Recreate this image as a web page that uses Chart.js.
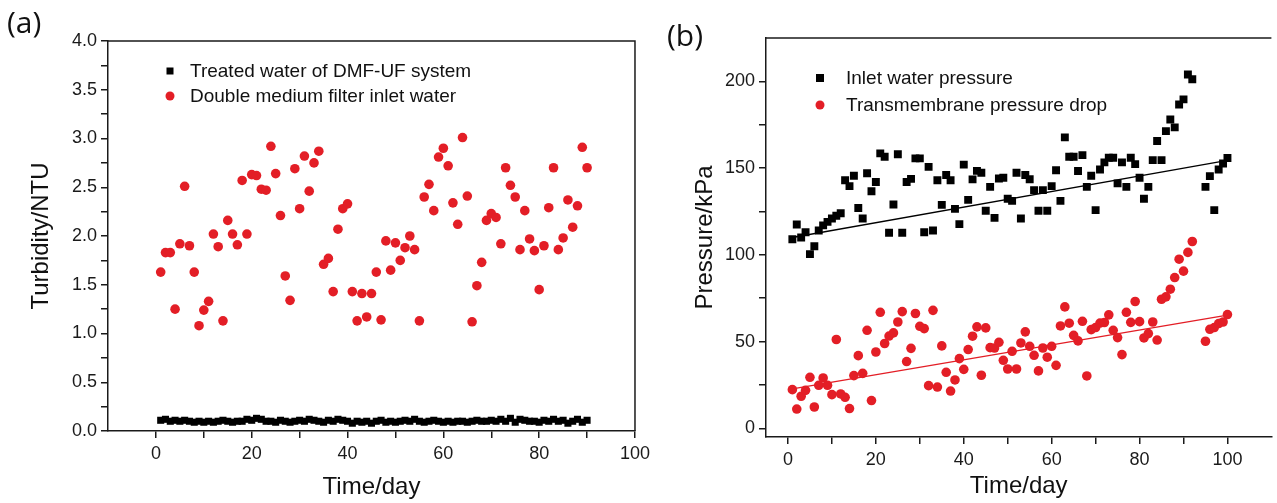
<!DOCTYPE html>
<html><head><meta charset="utf-8">
<script src="https://cdn.jsdelivr.net/npm/chart.js@4.4.1/dist/chart.umd.min.js"></script>
<style>
html,body{margin:0;padding:0;background:#fff;width:1277px;height:503px;overflow:hidden}
#ca{position:absolute;left:0;top:0}
#cb{position:absolute;left:655px;top:0}
</style></head><body>
<canvas id="ca" width="655" height="503"></canvas>
<canvas id="cb" width="622" height="503"></canvas>
<script>
// ---------- Panel (a) data ----------
const turbDays = [1,2,3,4,5,6,7,8,9,10,11,12,13,14,15,16,17,18,19,20,21,22,23,24,25,26,27,28,29,30,
  31,32,33,34,35,36,37,38,39,40,41,42,43,44,45,46,47,48,49,50,51,52,53,54,55,56,57,58,59,60,
  61,62,63,64,65,66,67,68,69,70,71,72,73,74,75,76,77,78,79,80,81,82,83,84,85,86,87,88,89,90];
const treatedTurbidity = [0.11,0.12,0.10,0.11,0.10,0.11,0.10,0.09,0.10,0.09,
  0.10,0.09,0.10,0.11,0.10,0.09,0.10,0.10,0.12,0.11,
  0.13,0.12,0.10,0.10,0.09,0.11,0.10,0.09,0.10,0.11,
  0.10,0.12,0.11,0.10,0.09,0.11,0.10,0.12,0.11,0.10,
  0.08,0.10,0.09,0.10,0.08,0.10,0.11,0.09,0.10,0.09,
  0.10,0.11,0.10,0.12,0.10,0.09,0.10,0.11,0.10,0.09,
  0.10,0.09,0.10,0.10,0.09,0.10,0.11,0.10,0.10,0.11,
  0.10,0.12,0.10,0.13,0.09,0.12,0.11,0.10,0.10,0.09,
  0.11,0.10,0.12,0.10,0.11,0.08,0.10,0.12,0.09,0.11];
const inletTurbidity = [1.63,1.83,1.83,1.25,1.92,2.51,1.90,1.63,1.08,1.24,
  1.33,2.02,1.89,1.13,2.16,2.02,1.91,2.57,2.02,2.63,
  2.62,2.48,2.47,2.92,2.64,2.21,1.59,1.34,2.69,2.28,
  2.82,2.46,2.75,2.87,1.71,1.77,1.43,2.07,2.28,2.33,
  1.43,1.13,1.41,1.17,1.41,1.63,1.14,1.95,1.65,1.93,
  1.75,1.88,2.00,1.86,1.13,2.40,2.53,2.26,2.81,2.90,
  2.72,2.34,2.12,3.01,2.41,1.12,1.49,1.73,2.16,2.23,
  2.19,1.92,2.70,2.52,2.40,1.86,2.26,1.97,1.85,1.45,
  1.90,2.29,2.70,1.86,1.98,2.37,2.09,2.31,2.91,2.70];
const aXTicks = [0,10,20,30,40,50,60,70,80,90,100];
const aXLabels = ['0','','20','','40','','60','','80','','100'];
const aYTicks = [0,0.25,0.5,0.75,1,1.25,1.5,1.75,2,2.25,2.5,2.75,3,3.25,3.5,3.75,4];
const aYLabels = ['0.0','','0.5','','1.0','','1.5','','2.0','','2.5','','3.0','','3.5','','4.0'];

// ---------- Panel (b) data ----------
const pressDays = [1,2,3,4,5,6,7,8,9,10,11,12,13,14,15,16,17,18,19,20,21,22,23,24,25,26,27,28,29,30,
  31,32,33,34,35,36,37,38,39,40,41,42,43,44,45,46,47,48,49,50,51,52,53,54,55,56,57,58,59,60,
  61,62,63,64,65,66,67,68,69,70,71,72,73,74,75,76,77,78,79,80,81,82,83,84,85,86,87,88,89,90,
  91,92,95,96,97,98,99,100];
const inletPressure = [109,117.5,110,113,100.4,105,114,117,119,121,
  122.5,124,143,139.6,145.6,127,121,147,136.7,142,
  158.5,156.5,112.7,129,158,112.7,142,143.8,155.6,155.6,
  113,150.7,114,143,128.8,146,143,126.5,117.7,152,
  131.7,143.5,148.4,147.3,125.4,139.2,121.3,144,144.4,132.3,
  131.1,147.3,121,146,143.6,137.3,125.4,137.3,125.4,139.6,
  148.8,131.1,167.7,156.5,156.5,148.3,157.5,139.2,145.6,125.8,
  149.2,153.3,156,156,141.2,153.3,139.2,156,152.3,144.4,
  132.3,139.2,154.6,165.6,154.6,171.3,178,173.5,186.7,189.6,
  204,201.2,139.2,145.4,125.8,149.2,152.7,155.8];
const tmpDrop = [22.3,11.1,18.5,21.9,29.4,12.3,24.8,29,24.8,19.4,
  51.2,19.8,17.9,11.4,30.4,41.9,31.7,56.5,16,44,
  66.9,48.9,53.2,55,61.3,67.3,38.5,46.1,66.2,58.8,
  57.5,24.6,68,23.8,47.5,32.3,21.5,27.9,40.2,34,
  45.4,53.1,58.5,30.6,57.9,46.5,46.3,49.6,39.2,34.2,
  44.4,34.2,49.2,55.6,47.3,42.1,33.1,46.3,41,47.3,
  36.3,59,70,60.6,53.6,50.4,61.7,30.2,56.9,58.1,
  60.7,61,65.4,56.5,52.3,42.5,66.9,61.1,73.1,61.5,
  52.1,54.6,61.3,50.9,74.4,75.8,80.2,86.9,97.5,90.6,
  101.4,107.7,50.2,57.1,58.1,60.4,61.3,65.6];
const trendDays = [1,100];
const inletTrend = [110,154.5];
const tmpTrend = [22.7,65.2];
const bXTicks = [0,10,20,30,40,50,60,70,80,90,100];
const bXLabels = ['0','','20','','40','','60','','80','','100'];
const bYTicks = [0,25,50,75,100,125,150,175,200];
const bYLabels = ['0','','50','','100','','150','','200'];

// ---------- helpers ----------
const RED = '#e31e26';
const INK = '#1a1a1a';
const pts = (xs, ys) => xs.map((x, i) => ({x, y: ys[i]}));
Chart.defaults.font.family = '"Liberation Sans", Arial, sans-serif';
Chart.defaults.color = INK;

const decor = {
  id: 'decor',
  afterDraw(chart, args, o) {
    const {ctx, chartArea: a} = chart;
    ctx.save();
    ctx.strokeStyle = INK; ctx.lineWidth = 1.5;
    ctx.beginPath();
    ctx.moveTo(a.left, a.top); ctx.lineTo(a.right, a.top);
    if (o.rightBorder) ctx.lineTo(a.right, a.bottom);
    ctx.stroke();
    ctx.fillStyle = '#111';
    ctx.textAlign = 'left'; ctx.textBaseline = 'middle';
    ctx.font = '30px "Open Sans", "Noto Sans", sans-serif';
    ctx.fillText(o.panel, o.panelX, o.panelY);
    ctx.font = '19px "Liberation Sans", Arial, sans-serif';
    o.legend.forEach((it) => {
      const ds = chart.data.datasets[it.ds];
      ctx.fillStyle = ds.backgroundColor;
      if (ds.pointStyle === 'rect') {
        ctx.fillRect(it.mx - it.s / 2, it.y - it.s / 2, it.s, it.s);
      } else {
        ctx.beginPath(); ctx.arc(it.mx, it.y, it.s / 2, 0, Math.PI * 2); ctx.fill();
      }
      ctx.fillStyle = '#111';
      ctx.fillText(ds.label, it.tx, it.y + 1);
    });
    ctx.restore();
  }
};

function axis(min, max, ticks, labels, fit, isX, title, titlePad) {
  return {
    type: 'linear', min, max,
    afterFit: s => { if (isX) s.height = fit; else s.width = fit; },
    afterBuildTicks: s => { s.ticks = ticks.map(v => ({value: v})); },
    ticks: {
      autoSkip: false, maxRotation: 0, padding: isX ? 5 : 4, color: INK,
      font: {size: 18},
      callback: (v) => { const i = ticks.findIndex(t => Math.abs(t - v) < 1e-9); return i >= 0 ? labels[i] : ''; }
    },
    grid: {drawOnChartArea: false, drawTicks: true, tickLength: 7, color: INK, lineWidth: 1.5},
    border: {display: true, color: INK, width: 1.5},
    title: {display: true, text: title, color: '#111', font: {size: 24}, padding: titlePad}
  };
}

new Chart(document.getElementById('ca'), {
  type: 'scatter',
  data: {datasets: [
    {label: 'Treated water of DMF-UF system', data: pts(turbDays, treatedTurbidity), pointStyle: 'rect',
     pointRadius: 5, backgroundColor: '#000', borderColor: '#000', borderWidth: 0},
    {label: 'Double medium filter inlet water', data: pts(turbDays, inletTurbidity), pointStyle: 'circle',
     pointRadius: 4.8, backgroundColor: RED, borderColor: RED, borderWidth: 0}
  ]},
  options: {
    responsive: false, animation: false, events: [],
    layout: {padding: {left: 0, right: 18, top: 41, bottom: 0}},
    plugins: {legend: {display: false}, tooltip: {enabled: false},
      decor: {rightBorder: true, panel: '(a)', panelX: 7, panelY: 24,
        legend: [{ds: 0, mx: 170, s: 7, tx: 190, y: 71}, {ds: 1, mx: 170, s: 9, tx: 190, y: 96}]}},
    scales: {
      x: axis(-10, 100, aXTicks, aXLabels, 72, true, 'Time/day', {top: 0, bottom: 1}),
      y: axis(0, 4, aYTicks, aYLabels, 108, false, 'Turbidity/NTU', {top: 27, bottom: 0})
    }
  },
  plugins: [decor]
});

new Chart(document.getElementById('cb'), {
  type: 'scatter',
  data: {datasets: [
    {label: 'Inlet water pressure', data: pts(pressDays, inletPressure), pointStyle: 'rect',
     pointRadius: 5.6, backgroundColor: '#000', borderColor: '#000', borderWidth: 0},
    {label: 'Transmembrane pressure drop', data: pts(pressDays, tmpDrop), pointStyle: 'circle',
     pointRadius: 4.8, backgroundColor: RED, borderColor: RED, borderWidth: 0},
    {label: 'inlet fit', data: pts(trendDays, inletTrend), showLine: true, pointRadius: 0,
     borderColor: '#000', borderWidth: 1.3, backgroundColor: '#000'},
    {label: 'tmp fit', data: pts(trendDays, tmpTrend), showLine: true, pointRadius: 0,
     borderColor: RED, borderWidth: 1.3, backgroundColor: RED}
  ]},
  options: {
    responsive: false, animation: false, events: [],
    layout: {padding: {left: 0, right: 0, top: 38, bottom: 0}},
    plugins: {legend: {display: false}, tooltip: {enabled: false},
      decor: {rightBorder: false, panel: '(b)', panelX: 12, panelY: 37,
        legend: [{ds: 0, mx: 165, s: 8, tx: 191, y: 78}, {ds: 1, mx: 165, s: 9, tx: 191, y: 105}]}},
    scales: {
      x: axis(-5, 110, bXTicks, bXLabels, 66, true, 'Time/day', {top: 0, bottom: 2}),
      y: axis(-5, 225, bYTicks, bYLabels, 111, false, 'Pressure/kPa', {top: 36, bottom: 0})
    }
  },
  plugins: [decor]
});
</script>
</body></html>
